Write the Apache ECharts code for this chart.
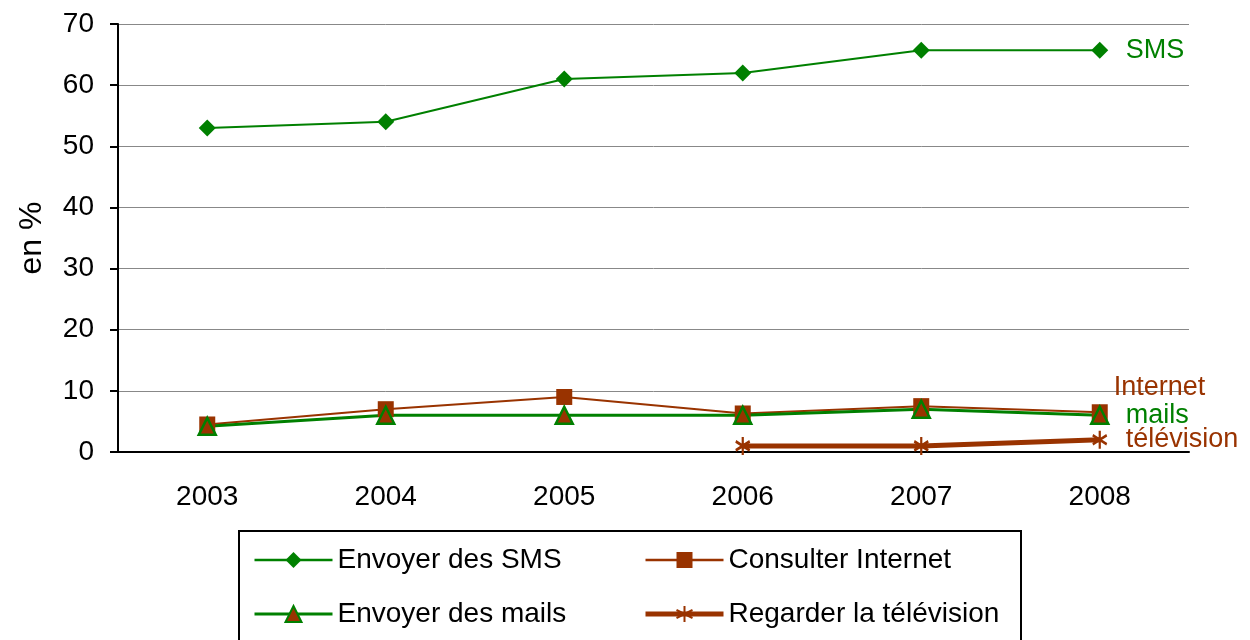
<!DOCTYPE html>
<html><head><meta charset="utf-8">
<script src="https://cdn.jsdelivr.net/npm/echarts@6/dist/echarts.min.js"></script>
<style>html,body{margin:0;padding:0;background:#fff}#c{width:1250px;height:640px}</style>
</head><body><div id="c"></div>
<script>
const years = ['2003','2004','2005','2006','2007','2008'];
const sms = [53, 54, 61, 62, 65.7, 65.7];
const internet = [4.5, 7, 9, 6.3, 7.5, 6.5];
const mails = [4.2, 6, 6, 6, 7, 6];
const tele = [null, null, null, 1, 1, 2];
const yTicks = [0, 10, 20, 30, 40, 50, 60, 70];

const GREEN = '#008000', BROWN = '#993300';
const FONT = '"Liberation Sans", Arial, sans-serif';
const star = 'path://M10,0L10,20M1.34,5L18.66,15M1.34,15L18.66,5';

const legendText = { color: '#000', fontSize: 28, fontFamily: FONT, lineHeight: 30 };
const chart = echarts.init(document.getElementById('c'));
chart.setOption({
  animation: false,
  grid: { left: 118, right: 61, top: 24, bottom: 188 },
  xAxis: {
    type: 'category', data: years, boundaryGap: true,
    axisLine: { lineStyle: { color: '#000', width: 2 } },
    axisTick: { length: 10, lineStyle: { color: '#000', width: 2 } },
    axisLabel: { color: '#000', fontSize: 28, fontFamily: FONT, margin: 31 }
  },
  yAxis: {
    type: 'value', min: yTicks[0], max: yTicks[yTicks.length - 1], interval: 10,
    name: 'en %', nameLocation: 'middle', nameGap: 70, nameRotate: 90,
    nameTextStyle: { color: '#000', fontSize: 32, fontFamily: FONT },
    axisLine: { show: true, lineStyle: { color: '#000', width: 2 } },
    axisTick: { show: true, length: 8, lineStyle: { color: '#000', width: 2 } },
    axisLabel: { color: '#000', fontSize: 28, fontFamily: FONT, margin: 24 },
    splitLine: { lineStyle: { color: '#888', width: 1 } }
  },
  legend: [
    { orient: 'vertical', left: 248, top: 540, itemWidth: 78, itemHeight: 20, itemGap: 24,
      data: [
        { name: 'Envoyer des SMS', lineStyle: { width: 2.5 } },
        { name: 'Envoyer des mails', lineStyle: { width: 3 } }
      ],
      textStyle: legendText },
    { orient: 'vertical', left: 638, top: 540, itemWidth: 78, itemHeight: 20, itemGap: 24,
      data: [
        { name: 'Consulter Internet', lineStyle: { width: 2.5 } },
        { name: 'Regarder la télévision', lineStyle: { width: 5 } }
      ],
      textStyle: legendText }
  ],
  graphic: [{
    type: 'rect', left: 238, top: 530, z: -1,
    shape: { width: 782, height: 130 },
    style: { fill: '#fff', stroke: '#000', lineWidth: 2 }
  }],
  series: [
    { name: 'Envoyer des SMS', type: 'line', data: sms,
      symbol: 'diamond', symbolSize: 17,
      lineStyle: { color: GREEN, width: 2 }, itemStyle: { color: GREEN },
      endLabel: { show: true, formatter: 'SMS', color: GREEN, fontSize: 27, fontFamily: FONT, distance: 26 } },
    { name: 'Consulter Internet', type: 'line', data: internet,
      symbol: 'rect', symbolSize: 16,
      lineStyle: { color: BROWN, width: 2 }, itemStyle: { color: BROWN },
      endLabel: { show: true, formatter: 'Internet', color: BROWN, fontSize: 27, fontFamily: FONT, distance: 14, offset: [0, -25] } },
    { name: 'Envoyer des mails', type: 'line', data: mails,
      symbol: 'triangle', symbolSize: 17,
      lineStyle: { color: GREEN, width: 3 }, itemStyle: { color: BROWN, borderColor: GREEN, borderWidth: 2.5 },
      endLabel: { show: true, formatter: 'mails', color: GREEN, fontSize: 27, fontFamily: FONT, distance: 26 } },
    { name: 'Regarder la télévision', type: 'line', data: tele,
      symbol: star, symbolSize: [14, 18],
      lineStyle: { color: BROWN, width: 5 }, itemStyle: { color: BROWN, borderColor: BROWN, borderWidth: 2.5 },
      endLabel: { show: true, formatter: 'télévision', color: BROWN, fontSize: 27, fontFamily: FONT, distance: 26 } }
  ]
});
</script></body></html>
